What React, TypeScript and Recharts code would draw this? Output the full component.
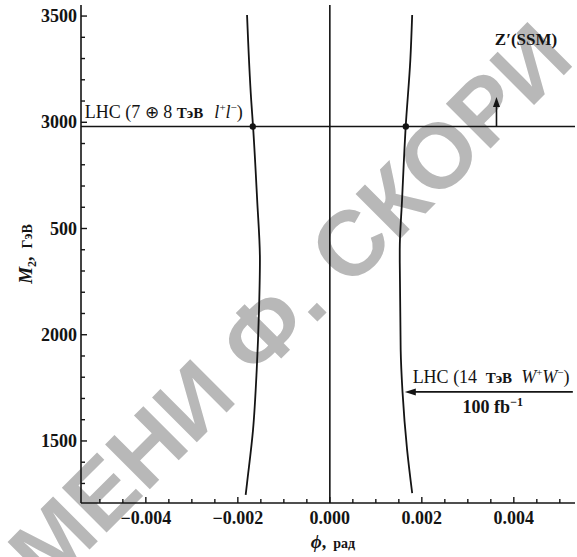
import React from "react";
import {
  ScatterChart,
  Scatter,
  XAxis,
  YAxis,
  ReferenceLine,
  ReferenceDot,
  Label,
} from "recharts";

// axis ticks
const xTicks = [-0.004, -0.002, 0, 0.002, 0.004];
const xTickLabels = ["\u22120.004", "\u22120.002", "0.000", "0.002", "0.004"];
const xMinorTicks = [
  -0.005, -0.0045, -0.004, -0.0035, -0.003, -0.0025, -0.002, -0.0015, -0.001, -0.0005, 0,
  0.0005, 0.001, 0.0015, 0.002, 0.0025, 0.003, 0.0035, 0.004, 0.0045, 0.005,
];
const yTicks = [1500, 2000, 2500, 3000, 3500];
const yTickLabels = ["1500", "2000", "500", "3000", "3500"];
const yMinorTicks = [
  1300, 1400, 1500, 1600, 1700, 1800, 1900, 2000, 2100, 2200, 2300, 2400, 2500,
  2600, 2700, 2800, 2900, 3000, 3100, 3200, 3300, 3400, 3500,
];
const xDomain = [-0.00541, 0.00533];
const yDomain = [1208, 3552];

// curves (M2 in GeV, phi in rad)
const leftM = [1246, 1302, 1552, 1834, 2116, 2352, 2634, 2982, 3105, 3505];
const leftPhi = [-0.00183, -0.0018, -0.00167, -0.00159, -0.00154, -0.00152, -0.00158, -0.00167, -0.00171, -0.0018];
const rightM = [1255, 1458, 1731, 1929, 2400, 2634, 2982, 3293, 3505];
const rightPhi = [0.00179, 0.00168, 0.00158, 0.00154, 0.00152, 0.00157, 0.00165, 0.00175, 0.00179];

// LHC 7+8 TeV limit and its crossings
const lhcLimit = 2980;
const crossPhi = [-0.001674, 0.001652];

// arrows
const upArrowPhi = 0.003623;
const upArrowTop = 3119;
const leftArrowM = 1731;
const leftArrowFrom = 0.005283;
const leftArrowTo = 0.00163;

const ink = "#141414";
const serif = "Liberation Serif";

const leftData = leftM.map((m, i) => ({ phi: leftPhi[i], m }));
const rightData = rightM.map((m, i) => ({ phi: rightPhi[i], m }));

const findTick = (v: number, list: number[]) => list.findIndex((t) => Math.abs(t - v) < 1e-9);

function BottomTick(props: any) {
  const { x, y, payload } = props;
  const i = findTick(payload.value, xTicks);
  return (
    <g>
      <line x1={x} x2={x} y1={y} y2={y - (i >= 0 ? 6 : 4)} stroke={ink} strokeWidth={1.4} />
      {i >= 0 && (
        <text x={x} y={y + 21} textAnchor="middle" style={{ fontFamily: serif }} fontWeight="bold" fontSize={18} fill={ink}>
          {xTickLabels[i]}
        </text>
      )}
    </g>
  );
}

function TopTick(props: any) {
  const { x, y, payload } = props;
  const i = findTick(payload.value, xTicks);
  return <line x1={x} x2={x} y1={y} y2={y + (i >= 0 ? 6 : 4)} stroke={ink} strokeWidth={1.4} />;
}

function LeftTick(props: any) {
  const { x, y, payload } = props;
  const i = findTick(payload.value, yTicks);
  return (
    <g>
      <line x1={x} x2={x + (i >= 0 ? 6 : 4)} y1={y} y2={y} stroke={ink} strokeWidth={1.4} />
      {i >= 0 && (
        <text x={x - 4} y={y + 6} textAnchor="end" style={{ fontFamily: serif }} fontWeight="bold" fontSize={18} fill={ink}>
          {yTickLabels[i]}
        </text>
      )}
    </g>
  );
}

function RightTick(props: any) {
  const { x, y, payload } = props;
  const i = findTick(payload.value, yTicks);
  return <line x1={x} x2={x - (i >= 0 ? 6 : 4)} y1={y} y2={y} stroke={ink} strokeWidth={1.4} />;
}

function XTitle(props: any) {
  const { x, y, width } = props.viewBox;
  return (
    <text x={x + width / 2 + 5} y={y + 45} textAnchor="middle" style={{ fontFamily: serif }} fill={ink} fontWeight="bold">
      <tspan fontStyle="italic" fontSize={19}>ϕ</tspan>
      <tspan fontSize={18}>,</tspan>
      <tspan dx={7} fontSize={14}>рад</tspan>
    </text>
  );
}

function YTitle(props: any) {
  const { y, height } = props.viewBox;
  const cx = 32;
  const cy = y + height / 2;
  return (
    <text x={cx} y={cy} transform={`rotate(-90, ${cx}, ${cy})`} textAnchor="middle" style={{ fontFamily: serif }} fill={ink} fontWeight="bold">
      <tspan fontStyle="italic" fontSize={19}>M</tspan>
      <tspan fontSize={12} dy={4}>2</tspan>
      <tspan fontSize={18} dy={-4}>,</tspan>
      <tspan dx={8} fontSize={14}>ГэВ</tspan>
    </text>
  );
}

const noDot = () => <g />;

function LhcLowLabel(p: any) {
  return (
    <text x={p.cx} y={p.cy} style={{ fontFamily: serif }} fontSize={18} fill={ink}>
      LHC (7 <tspan fontSize={17}>⊕</tspan> 8 <tspan fontWeight="bold" fontSize={15}>ТэВ</tspan>
      <tspan dx={11} fontStyle="italic">l</tspan>
      <tspan fontSize={11} dy={-7}>+</tspan>
      <tspan dy={7} fontStyle="italic">l</tspan>
      <tspan fontSize={11} dy={-7}>−</tspan>
      <tspan dy={7}>)</tspan>
    </text>
  );
}

function ZLabel(p: any) {
  return (
    <text x={p.cx} y={p.cy} style={{ fontFamily: serif }} fontSize={17} fontWeight="bold" fill={ink}>
      Z′(SSM)
    </text>
  );
}

function LhcHighLabel(p: any) {
  return (
    <text x={p.cx} y={p.cy} style={{ fontFamily: serif }} fontSize={18} fill={ink}>
      LHC (14 <tspan dx={4} fontWeight="bold" fontSize={15}>ТэВ</tspan>
      <tspan dx={9} fontStyle="italic">W</tspan>
      <tspan fontSize={11} dy={-7}>+</tspan>
      <tspan dy={7} fontStyle="italic">W</tspan>
      <tspan fontSize={11} dy={-7}>−</tspan>
      <tspan dy={7}>)</tspan>
    </text>
  );
}

function LumiLabel(p: any) {
  return (
    <text x={p.cx} y={p.cy} textAnchor="middle" style={{ fontFamily: serif }} fontSize={18} fontWeight="bold" fill={ink}>
      100 fb<tspan fontSize={12} dy={-7}>−1</tspan>
    </text>
  );
}

const UpHead = (p: any) => (
  <polygon points={`${p.cx},${p.cy} ${p.cx - 3.5},${p.cy + 10} ${p.cx + 3.5},${p.cy + 10}`} fill={ink} />
);
const LeftHead = (p: any) => (
  <polygon points={`${p.cx},${p.cy} ${p.cx + 11},${p.cy - 3.5} ${p.cx + 11},${p.cy + 3.5}`} fill={ink} />
);

export default function App() {
  return (
    <div style={{ position: "absolute", left: 0, top: 0, width: 577, height: 557, background: "#fff", overflow: "hidden" }}>
      <svg width={577} height={557} style={{ position: "absolute", left: 0, top: 0 }}>
        <text
          x={48}
          y={591}
          transform="rotate(-45, 48, 591)"
          style={{ fontFamily: "Liberation Sans" }}
          fontWeight="bold"
          fontSize={92}
          fill="#b8b8b8"
        >
          МЕНИ Ф. СКОРИ
        </text>
      </svg>
      <div style={{ position: "absolute", left: 0, top: 0 }}>
        <ScatterChart width={577} height={557} margin={{ top: 5, right: 2, bottom: 0, left: 0 }}>
          <XAxis
            dataKey="phi"
            type="number"
            domain={xDomain}
            allowDataOverflow
            ticks={xMinorTicks}
            interval={0}
            tick={<BottomTick />}
            tickLine={false}
            tickSize={0}
            tickMargin={0}
            height={54}
            axisLine={{ stroke: ink, strokeWidth: 1.6 }}
          >
            <Label content={<XTitle />} />
          </XAxis>
          <XAxis
            xAxisId="top"
            orientation="top"
            type="number"
            domain={xDomain}
            allowDataOverflow
            ticks={xMinorTicks}
            interval={0}
            tick={<TopTick />}
            tickLine={false}
            tickSize={0}
            tickMargin={0}
            height={0}
            axisLine={{ stroke: ink, strokeWidth: 1.6 }}
          />
          <YAxis
            dataKey="m"
            type="number"
            domain={yDomain}
            allowDataOverflow
            ticks={yMinorTicks}
            interval={0}
            tick={<LeftTick />}
            tickLine={false}
            tickSize={0}
            tickMargin={0}
            width={81}
            axisLine={{ stroke: ink, strokeWidth: 1.6 }}
          >
            <Label content={<YTitle />} />
          </YAxis>
          <YAxis
            yAxisId="right"
            orientation="right"
            type="number"
            domain={yDomain}
            allowDataOverflow
            ticks={yMinorTicks}
            interval={0}
            tick={<RightTick />}
            tickLine={false}
            tickSize={0}
            tickMargin={0}
            width={0}
            axisLine={{ stroke: ink, strokeWidth: 1.6 }}
          />
          <ReferenceLine x={0} stroke={ink} strokeWidth={1.6} />
          <ReferenceLine y={lhcLimit} stroke={ink} strokeWidth={1.6} />
          <Scatter
            data={leftData}
            line={{ stroke: ink, strokeWidth: 1.8 }}
            lineJointType="monotoneY"
            shape={noDot}
            isAnimationActive={false}
          />
          <Scatter
            data={rightData}
            line={{ stroke: ink, strokeWidth: 1.8 }}
            lineJointType="monotoneY"
            shape={noDot}
            isAnimationActive={false}
          />
          {crossPhi.map((phi) => (
            <ReferenceDot key={phi} x={phi} y={lhcLimit} r={3.2} fill={ink} stroke="none" />
          ))}
          <ReferenceLine
            segment={[
              { x: upArrowPhi, y: lhcLimit },
              { x: upArrowPhi, y: upArrowTop - 30 },
            ]}
            stroke={ink}
            strokeWidth={1.6}
          />
          <ReferenceDot x={upArrowPhi} y={upArrowTop} shape={UpHead} />
          <ReferenceLine
            segment={[
              { x: leftArrowFrom, y: leftArrowM },
              { x: leftArrowTo + 0.0002, y: leftArrowM },
            ]}
            stroke={ink}
            strokeWidth={1.8}
          />
          <ReferenceDot x={leftArrowTo} y={leftArrowM} shape={LeftHead} />
          <ReferenceDot x={-0.005326} y={3020} shape={LhcLowLabel} />
          <ReferenceDot x={0.003587} y={3363} shape={ZLabel} />
          <ReferenceDot x={0.0018} y={1773} shape={LhcHighLabel} />
          <ReferenceDot x={0.003543} y={1633} shape={LumiLabel} />
        </ScatterChart>
      </div>
    </div>
  );
}
